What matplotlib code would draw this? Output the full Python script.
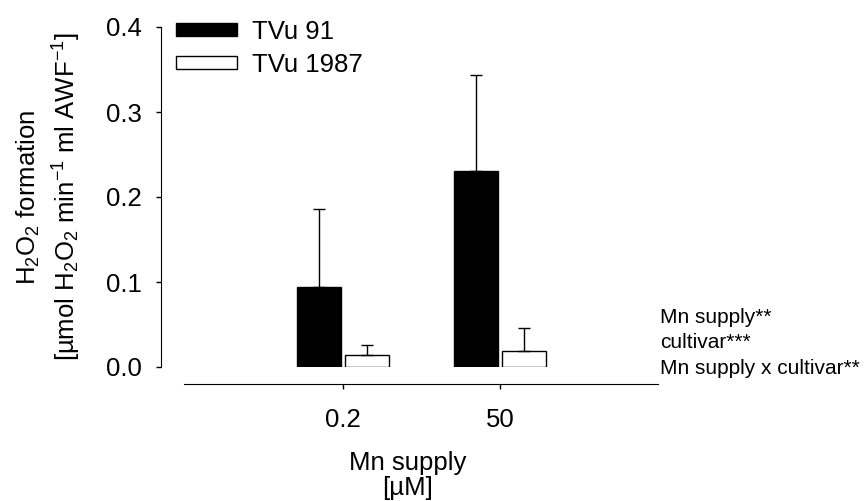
import numpy as np
import matplotlib
matplotlib.use('Agg')
import matplotlib.pyplot as plt
from matplotlib.patches import Patch

plt.rcParams['font.family'] = ['Liberation Sans', 'DejaVu Sans']
plt.rcParams['mathtext.fontset'] = 'custom'
plt.rcParams['mathtext.rm'] = 'Liberation Sans'
plt.rcParams['mathtext.it'] = 'Liberation Sans'
plt.rcParams['mathtext.default'] = 'regular'

supply = ['0.2', '50']
cultivars = ['TVu 91', 'TVu 1987']
tvu91 = [0.094, 0.231]
tvu91_err = [0.092, 0.113]
tvu1987 = [0.014, 0.019]
tvu1987_err = [0.012, 0.027]
stats = ['Mn supply**', 'cultivar***', 'Mn supply x cultivar**']

FS = 18.5

fig = plt.figure(figsize=(8.65, 5.01), dpi=100)
ax = fig.add_axes([161 / 865, 1 - 367 / 501, 497 / 865, 340 / 501])

x = np.arange(len(supply))
w = 0.28
off = 0.15
err_kw = dict(ecolor='black', elinewidth=1, capsize=4, capthick=1)
ax.bar(x - off, tvu91, w, color='black', edgecolor='black', linewidth=1,
       yerr=[np.zeros(2), tvu91_err], error_kw=err_kw, label=cultivars[0])
ax.bar(x + off, tvu1987, w, color='white', edgecolor='black', linewidth=1,
       yerr=[np.zeros(2), tvu1987_err], error_kw=err_kw, label=cultivars[1])

ax.set_xlim(-1.159, 2.006)
ax.set_ylim(0, 0.4)
ax.set_yticks([0, 0.1, 0.2, 0.3, 0.4])
ax.set_yticklabels(['0.0', '0.1', '0.2', '0.3', '0.4'])
ax.set_xticks(x)
ax.set_xticklabels(supply)

for s in ['top', 'right']:
    ax.spines[s].set_visible(False)
ax.spines['left'].set_bounds(0, 0.4)
ax.spines['bottom'].set_position(('outward', 12))
ax.spines['bottom'].set_bounds(-1.01, 2.006)
ax.tick_params(axis='y', direction='out', length=3.6, width=1, pad=10.5, labelsize=FS)
ax.tick_params(axis='x', direction='out', length=3.6, width=1, pad=14, labelsize=FS)

ax.set_ylabel('H$_2$O$_2$ formation\n[µmol H$_2$O$_2$ min$^{-1}$ ml AWF$^{-1}$]',
              fontsize=FS, linespacing=1.35)
ax.yaxis.set_label_coords(-0.157, 0.5)
ax.set_xlabel('Mn supply\n[µM]', fontsize=FS, linespacing=1.05)
ax.xaxis.set_label_coords(0.496, -0.247)

handles = [Patch(facecolor='black', edgecolor='black'),
           Patch(facecolor='white', edgecolor='black')]
ax.legend(handles, cultivars, loc='upper left', frameon=False,
          bbox_to_anchor=(176 / 865, 1 - 20 / 501), bbox_transform=fig.transFigure,
          borderpad=0, borderaxespad=0, handlelength=2.37, handleheight=0.39,
          handletextpad=0.58, labelspacing=0.35, fontsize=FS)

for i, s in enumerate(stats):
    fig.text(660 / 865, 1 - (323 + 25.5 * i) / 501, s, fontsize=15,
             ha='left', va='baseline')

fig.savefig('out.png', dpi=100)
